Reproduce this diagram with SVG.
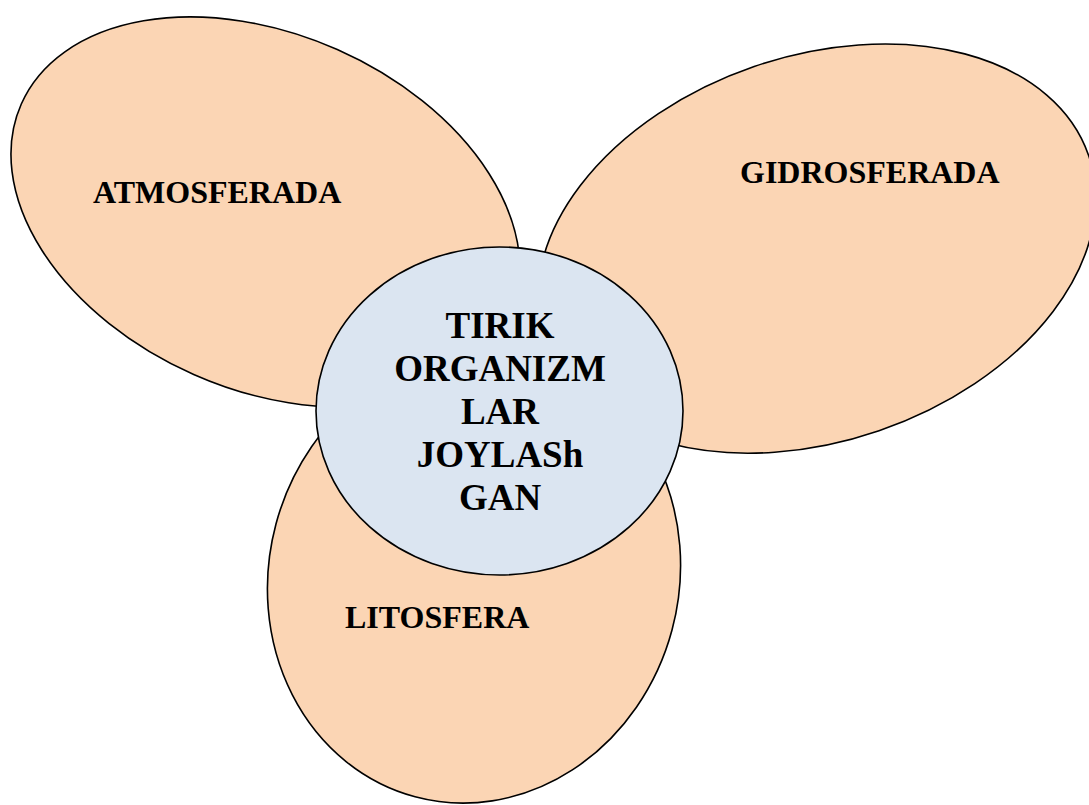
<svg xmlns="http://www.w3.org/2000/svg" width="1089" height="805" viewBox="0 0 1089 805">
  <style>
    .petal { fill: #FBD5B4; stroke: #000; stroke-width: 1.6; }
    .core { fill: #DBE5F1; stroke: #000; stroke-width: 1.6; }
    .label { font-family: "Liberation Serif", "Times New Roman", serif; font-weight: bold; font-size: 32px; fill: #000; }
    .core-label { font-family: "Liberation Serif", "Times New Roman", serif; font-weight: bold; font-size: 37px; fill: #000; text-anchor: middle; }
  </style>
  <rect width="1089" height="805" fill="#fff"/>

  <g id="atmosfera">
    <ellipse class="petal" cx="265.5" cy="212" rx="267" ry="177.6" transform="rotate(23.85 265.5 212)"/>
    <text class="label" x="93" y="203">ATMOSFERADA</text>
  </g>

  <g id="gidrosfera">
    <ellipse class="petal" cx="816.6" cy="248.6" rx="287.5" ry="192.5" transform="rotate(-18.93 816.6 248.6)"/>
    <text class="label" x="740" y="183">GIDROSFERADA</text>
  </g>

  <g id="litosfera">
    <ellipse class="petal" cx="474" cy="577" rx="205" ry="227.5" transform="rotate(15 474 577)"/>
    <text class="label" x="345" y="628">LITOSFERA</text>
  </g>

  <g id="tirik-organizmlar">
    <ellipse class="core" cx="499.5" cy="411" rx="183.5" ry="164"/>
    <text class="core-label" x="500" y="338">TIRIK</text>
    <text class="core-label" x="500" y="381">ORGANIZM</text>
    <text class="core-label" x="500" y="424">LAR</text>
    <text class="core-label" x="500" y="467">JOYLASh</text>
    <text class="core-label" x="500" y="510">GAN</text>
  </g>

  <g id="connectors"></g>
</svg>
